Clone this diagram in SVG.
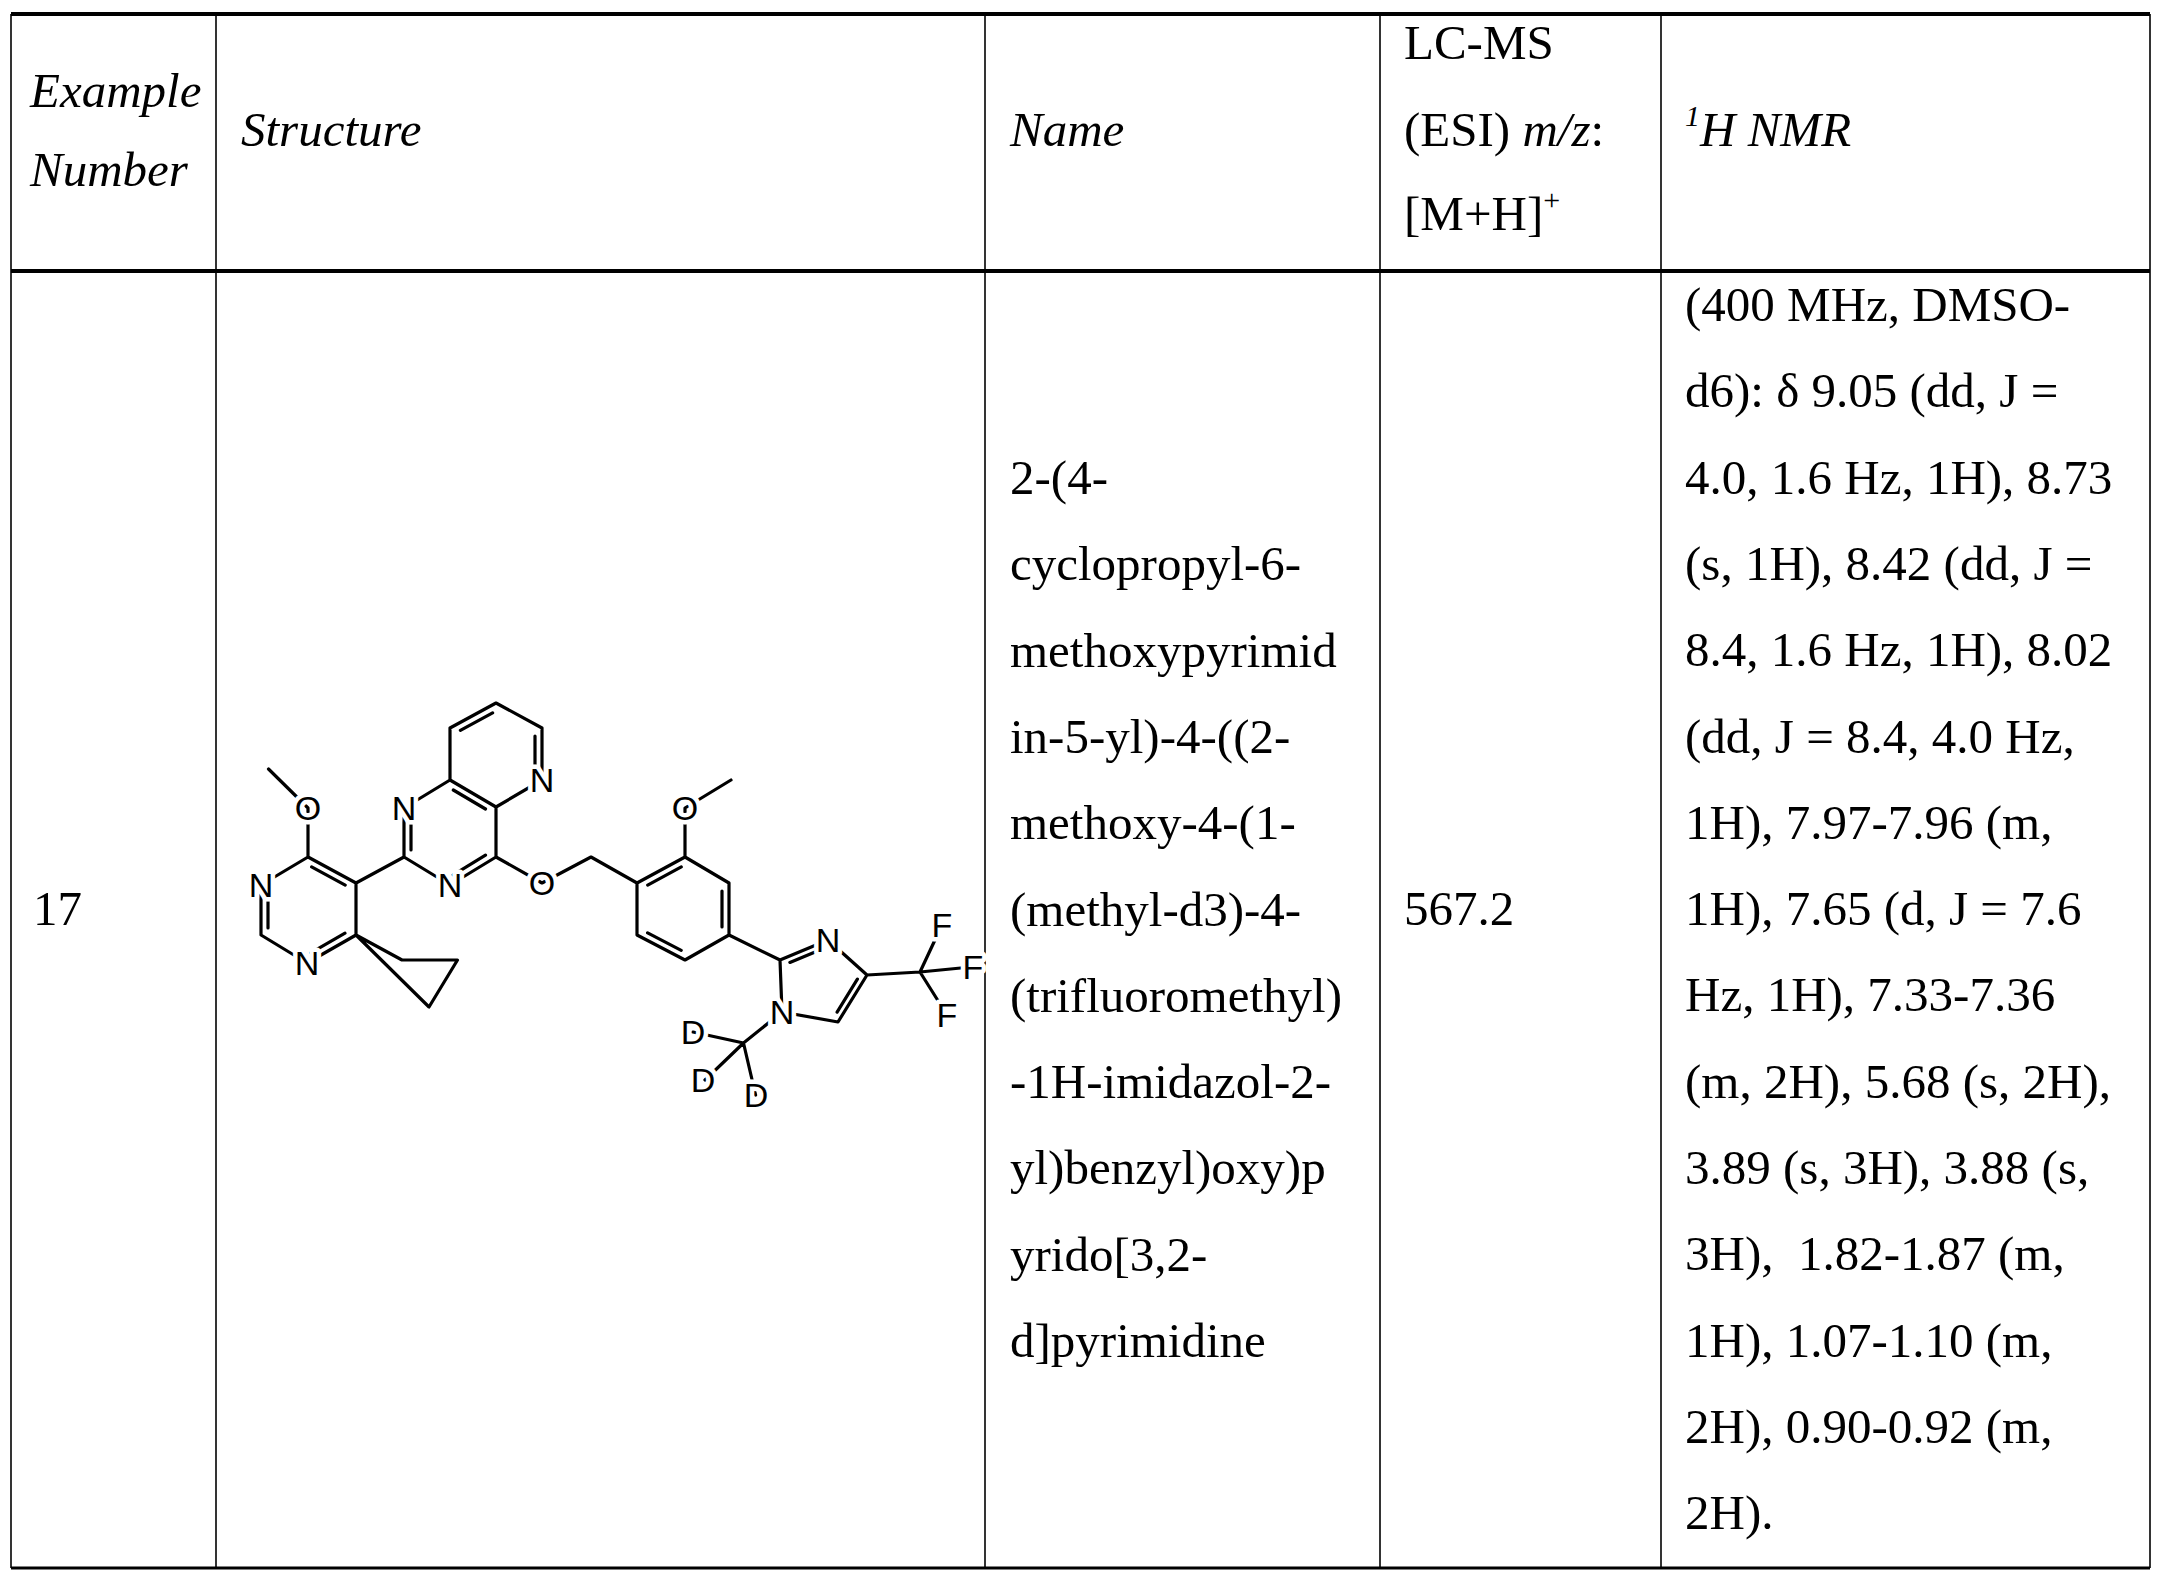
<svg xmlns="http://www.w3.org/2000/svg" width="2161" height="1581" viewBox="0 0 2161 1581">
<style>
.t{font-family:"Liberation Serif","Times New Roman",serif;font-size:49px;fill:#000}
.i{font-style:italic}
.b{stroke:#000;stroke-width:3.2;fill:none;stroke-linecap:round;stroke-linejoin:round}
.a{font-family:"Liberation Sans",Arial,sans-serif;font-size:34px;fill:#000;text-anchor:middle;stroke:#fff;stroke-width:9;paint-order:stroke;stroke-linejoin:round}
</style>
<rect width="2161" height="1581" fill="#fff"/>
<g id="table" stroke="#000">
<line x1="11" y1="14" x2="2150" y2="14" stroke-width="4"/>
<line x1="11" y1="271" x2="2150" y2="271" stroke-width="4"/>
<line x1="11" y1="1568" x2="2150" y2="1568" stroke-width="3"/>
<line x1="11" y1="14" x2="11" y2="1568" stroke-width="1.6"/>
<line x1="216" y1="14" x2="216" y2="1568" stroke-width="1.6"/>
<line x1="985" y1="14" x2="985" y2="1568" stroke-width="1.6"/>
<line x1="1380" y1="14" x2="1380" y2="1568" stroke-width="1.6"/>
<line x1="1661" y1="14" x2="1661" y2="1568" stroke-width="1.6"/>
<line x1="2150" y1="14" x2="2150" y2="1568" stroke-width="1.6"/>
</g>
<g id="header">
<text class="t i" x="30" y="107">Example</text>
<text class="t i" x="30" y="186">Number</text>
<text class="t i" x="241" y="146">Structure</text>
<text class="t i" x="1010" y="146">Name</text>
<text class="t" x="1404" y="59">LC-MS</text>
<text class="t" x="1404" y="146">(ESI) <tspan class="i">m/z</tspan>:</text>
<text class="t" x="1404" y="230">[M+H]<tspan font-size="30" dy="-20">+</tspan></text>
<text class="t i" x="1685" y="146"><tspan font-size="30" dy="-20">1</tspan><tspan dy="20">H NMR</tspan></text>
</g>
<g id="row17">
<text class="t" x="33" y="925">17</text>
<text class="t" x="1404" y="925">567.2</text>
<text class="t" x="1010" y="494">
<tspan x="1010" dy="0">2-(4-</tspan>
<tspan x="1010" dy="86.3">cyclopropyl-6-</tspan>
<tspan x="1010" dy="86.3">methoxypyrimid</tspan>
<tspan x="1010" dy="86.3">in-5-yl)-4-((2-</tspan>
<tspan x="1010" dy="86.3">methoxy-4-(1-</tspan>
<tspan x="1010" dy="86.3">(methyl-d3)-4-</tspan>
<tspan x="1010" dy="86.3">(trifluoromethyl)</tspan>
<tspan x="1010" dy="86.3">-1H-imidazol-2-</tspan>
<tspan x="1010" dy="86.3">yl)benzyl)oxy)p</tspan>
<tspan x="1010" dy="86.3">yrido[3,2-</tspan>
<tspan x="1010" dy="86.3">d]pyrimidine</tspan>
</text>
<text class="t" x="1685" y="321" xml:space="preserve"><tspan x="1685" dy="0">(400 MHz, DMSO-</tspan><tspan x="1685" dy="86.3">d6): δ 9.05 (dd, J =</tspan><tspan x="1685" dy="86.3">4.0, 1.6 Hz, 1H), 8.73</tspan><tspan x="1685" dy="86.3">(s, 1H), 8.42 (dd, J =</tspan><tspan x="1685" dy="86.3">8.4, 1.6 Hz, 1H), 8.02</tspan><tspan x="1685" dy="86.3">(dd, J = 8.4, 4.0 Hz,</tspan><tspan x="1685" dy="86.3">1H), 7.97-7.96 (m,</tspan><tspan x="1685" dy="86.3">1H), 7.65 (d, J = 7.6</tspan><tspan x="1685" dy="86.3">Hz, 1H), 7.33-7.36</tspan><tspan x="1685" dy="86.3">(m, 2H), 5.68 (s, 2H),</tspan><tspan x="1685" dy="86.3">3.89 (s, 3H), 3.88 (s,</tspan><tspan x="1685" dy="86.3">3H),  1.82-1.87 (m,</tspan><tspan x="1685" dy="86.3">1H), 1.07-1.10 (m,</tspan><tspan x="1685" dy="86.3">2H), 0.90-0.92 (m,</tspan><tspan x="1685" dy="86.3">2H).</tspan></text>
</g>
<g id="structure">
<path class="b" d="M268.5,769 L308,808 L308,857 L261,885 L261,935 L307,963 L356,935 L356,883 L308,857
M356,883 L404,857 M356,935 L402,960 L457.5,960 L429,1007 Z
M404,857 L404,808 L450,780 L496,807 L496,857 L450,885 L404,857
M450,780 L450,728 L496,703 L542,728 L542,780 L496,807
M496,857 L542,883 L591,857 L637,883 L685,857 L729,883 L729,935 L685,960 L637,935 L637,883
M685,857 L685,808 L731,780
M729,935 L780,960 L828,940 L867,975 L838,1022 L782,1012 L780,960
M867,975 L920,972 L942,925 M920,972 L971,967 M920,972 L947,1015
M782,1012 L743.5,1043 L693,1032 M743.5,1043 L705,1080 M743.5,1043 L755.6,1095"/>
<path class="b" d="M311.6,866.9 L345.2,885.1 M268,892 L268,928 M310.8,952.8 L345,933.2
M411,815 L411,850 M453.3,874.8 L485.5,855.2 M485.5,809 L453.3,790
M460.4,730.3 L492.6,712.8 M535,736 L535,772
M647.7,885.1 L681.3,866.9 M722,891 L722,927 M681.2,950.3 L647.6,932.8
M789.9,962.4 L823.5,948.4 M857.4,979.1 L837.1,1012.1"/>
<g id="atoms">
<text class="a" x="308" y="820">O</text>
<text class="a" x="261" y="897">N</text>
<text class="a" x="307" y="975">N</text>
<text class="a" x="404" y="820">N</text>
<text class="a" x="450" y="897">N</text>
<text class="a" x="542" y="792">N</text>
<text class="a" x="542" y="895">O</text>
<text class="a" x="685" y="820">O</text>
<text class="a" x="828" y="952">N</text>
<text class="a" x="782" y="1024">N</text>
<text class="a" x="942" y="937">F</text>
<text class="a" x="973" y="979">F</text>
<text class="a" x="947" y="1027">F</text>
<text class="a" x="693" y="1044">D</text>
<text class="a" x="703" y="1092">D</text>
<text class="a" x="756" y="1107">D</text>
</g>
</g>
</svg>
